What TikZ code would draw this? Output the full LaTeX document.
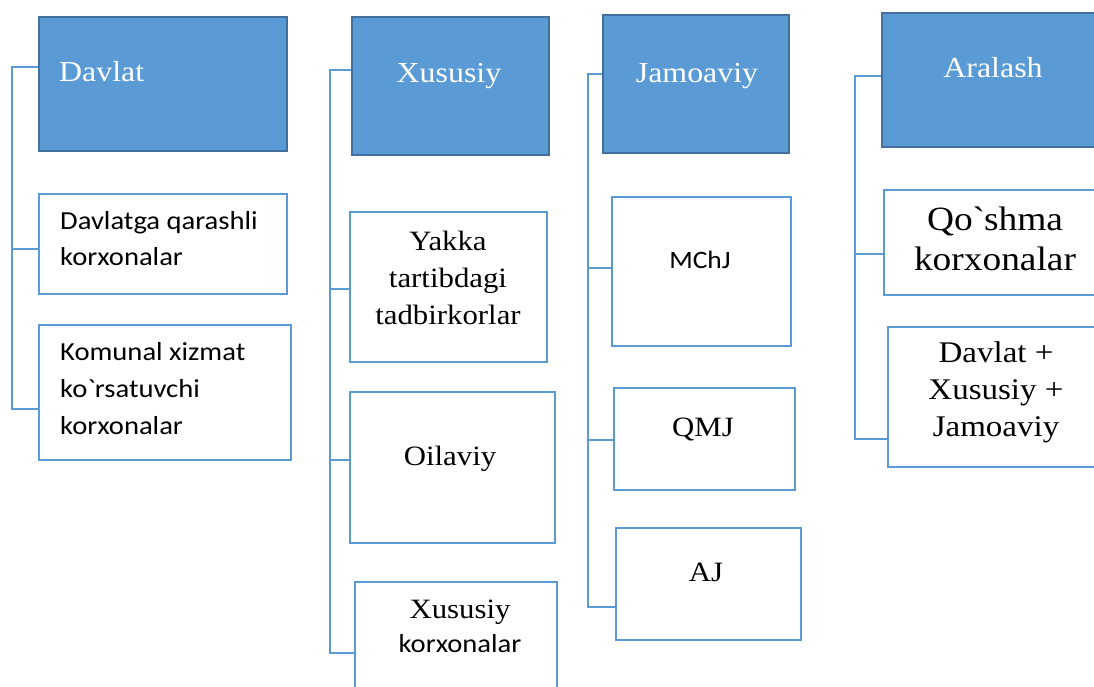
\documentclass[tikz,border=0pt]{standalone}
\usepackage{fontspec}
\setmainfont{Liberation Serif}[FakeStretch=1.1]
\setsansfont{Carlito}[FakeStretch=1.1]
\definecolor{hdrfill}{HTML}{5B9BD5}
\definecolor{hdrline}{HTML}{41719C}
\definecolor{boxline}{HTML}{5B9BD5}
\begin{document}
\begin{tikzpicture}[x=1pt,y=-1pt,
  header/.style={rectangle, fill=hdrfill, draw=hdrline, line width=1.2pt, inner sep=0pt},
  item/.style={rectangle, draw=boxline, line width=1.6pt, inner sep=0pt, fill=white},
  link/.style={draw=boxline, line width=1.4pt},
  htext/.style={text=white, inner sep=0pt, anchor=base, font=\fontsize{29}{34}\selectfont},
  stext/.style={inner sep=0pt, anchor=base west, align=left, font=\sffamily\fontsize{26}{36}\selectfont},
  rtext/.style={inner sep=0pt, anchor=base, align=center, font=\fontsize{28}{37}\selectfont},
]
\useasboundingbox (0,0) rectangle (1094,687);
\clip (0,0) rectangle (1094,687);

% ---- Davlat column ----
\node[header, minimum width=248pt, minimum height=134pt] (dH) at (163,84) {};
\node[item, minimum width=248pt, minimum height=100pt] (d1) at (163,244) {};
\node[item, minimum width=252pt, minimum height=135pt] (d2) at (165,392.5) {};
\node[htext, anchor=base west] (dHt) at (59,82) {Davlat};
% multi-line labels are placed by the baseline of their last line
\node[stext] (d1t) at (60,265) {Davlatga qarashli\\korxonalar};
\node[stext, font=\sffamily\fontsize{26}{37}\selectfont] (d2t) at (60,434) {Komunal xizmat\\ko\textasciigrave rsatuvchi\\korxonalar};
\coordinate (ds0) at (12,67);
\coordinate (ds1) at (12,249);
\coordinate (ds2) at (12,409);
\draw[link] (ds0 -| dH.west) -- (ds0) -- (ds2) -- (ds2 -| d2.west);
\draw[link] (ds1) -- (ds1 -| d1.west);

% ---- Xususiy column ----
\node[header, minimum width=197pt, minimum height=138pt] (xH) at (450.5,86) {};
\node[item, minimum width=197pt, minimum height=150pt] (x1) at (448.5,287) {};
\node[item, minimum width=205pt, minimum height=151pt] (x2) at (452.5,467.5) {};
\node[item, minimum width=202pt, minimum height=138pt] (x3) at (456,651) {};
\node[htext] (xHt) at (449,83) {Xususiy};
\node[rtext] (x1t) at (448,324) {Yakka\\tartibdagi\\tadbirkorlar};
\node[rtext] (x2t) at (450,465) {Oilaviy};
\node[rtext, font=\fontsize{28}{34}\selectfont] (x3t) at (460,652) {Xususiy\\{\sffamily\fontsize{26}{34}\selectfont korxonalar}};
\coordinate (xs0) at (330,70);
\coordinate (xs1) at (330,289);
\coordinate (xs2) at (330,460);
\coordinate (xs3) at (330,653);
\draw[link] (xs0 -| xH.west) -- (xs0) -- (xs3) -- (xs3 -| x3.west);
\draw[link] (xs1) -- (xs1 -| x1.west);
\draw[link] (xs2) -- (xs2 -| x2.west);

% ---- Jamoaviy column ----
\node[header, minimum width=186pt, minimum height=138pt] (jH) at (696,84) {};
\node[item, minimum width=179pt, minimum height=149pt] (j1) at (701.5,271.5) {};
\node[item, minimum width=181pt, minimum height=102pt] (j2) at (704.5,439) {};
\node[item, minimum width=185pt, minimum height=112pt] (j3) at (708.5,584) {};
\node[htext] (jHt) at (697,83) {Jamoaviy};
\node[rtext, font=\sffamily\fontsize{25}{30}\selectfont] (j1t) at (700,268) {MChJ};
\node[rtext] (j2t) at (703,436) {QMJ};
\node[rtext] (j3t) at (706,581) {AJ};
\coordinate (js0) at (588,74);
\coordinate (js1) at (588,268);
\coordinate (js2) at (588,440);
\coordinate (js3) at (588,607);
\draw[link] (js0 -| jH.west) -- (js0) -- (js3) -- (js3 -| j3.west);
\draw[link] (js1) -- (js1 -| j1.west);
\draw[link] (js2) -- (js2 -| j2.west);

% ---- Aralash column ----
\node[header, minimum width=222pt, minimum height=134pt] (aH) at (993,80) {};
\node[item, minimum width=222pt, minimum height=105pt] (a1) at (995,242.5) {};
\node[item, minimum width=216pt, minimum height=140pt] (a2) at (996,397) {};
\node[htext] (aHt) at (993,78) {Aralash};
\node[rtext, font=\fontsize{34}{40}\selectfont] (a1t) at (995,270) {Qo\textasciigrave shma\\korxonalar};
\node[rtext, font=\fontsize{30}{37}\selectfont] (a2t) at (996,436) {Davlat +\\Xususiy +\\Jamoaviy};
\coordinate (as0) at (855,76);
\coordinate (as1) at (855,254);
\coordinate (as2) at (855,439);
\draw[link] (as0 -| aH.west) -- (as0) -- (as2) -- (as2 -| a2.west);
\draw[link] (as1) -- (as1 -| a1.west);
\end{tikzpicture}
\end{document}
